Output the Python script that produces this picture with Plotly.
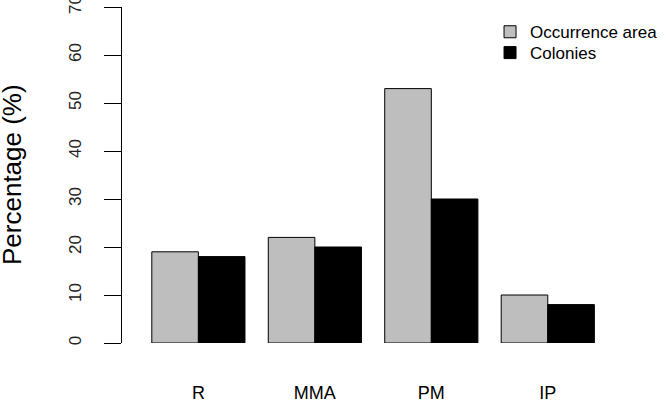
import plotly.graph_objects as go

categories = ["R", "MMA", "PM", "IP"]
occurrence_area = [19, 22, 53, 10]
colonies = [18, 20, 30, 8]
y_ticks = [0, 10, 20, 30, 40, 50, 60, 70]

FONT = "Liberation Sans, Arial, Helvetica, sans-serif"

fig = go.Figure()
fig.add_trace(go.Bar(
    x=categories, y=occurrence_area, name="Occurrence area", legend="legend",
    marker=dict(color="#BEBEBE", line=dict(color="#000000", width=1)),
))
fig.add_trace(go.Bar(
    x=categories, y=colonies, name="Colonies", legend="legend2",
    marker=dict(color="#000000", line=dict(color="#000000", width=1)),
))

legend_common = dict(
    xanchor="left", yanchor="middle", xref="paper", yref="paper",
    font=dict(size=17, color="#000000"),
    bgcolor="rgba(0,0,0,0)", itemclick=False, itemdoubleclick=False,
)

fig.update_layout(
    width=670, height=401,
    margin=dict(l=122, r=48, t=7, b=58),
    paper_bgcolor="white", plot_bgcolor="white",
    template="none",
    barmode="group", bargap=0.2, bargroupgap=0,
    font=dict(family=FONT, color="#000000"),
    showlegend=True,
    legend=dict(x=0.742, y=0.925, **legend_common),
    legend2=dict(x=0.742, y=0.863, **legend_common),
    xaxis=dict(
        type="category",
        range=[-0.656, 3.603],
        automargin=False,
        showline=False, showgrid=False, zeroline=False,
        ticks="", ticklabelstandoff=37,
        tickfont=dict(size=18, color="#000000"),
        fixedrange=True,
    ),
    yaxis=dict(
        range=[0, 70],
        automargin=False,
        tickvals=y_ticks,
        ticktext=[str(v) for v in y_ticks],
        showline=True, linecolor="#000000", linewidth=1,
        ticks="outside", ticklen=17, tickwidth=1, tickcolor="#000000",
        tickangle=-90,
        tickfont=dict(size=17, color="#222222"),
        ticklabelstandoff=16,
        ticklabeloverflow="allow",
        showgrid=False, zeroline=False,
        fixedrange=True,
    ),
)

fig.add_annotation(
    text="Percentage (%)", xref="paper", yref="paper",
    x=0, y=0.5, xanchor="center", yanchor="middle",
    xshift=-110, textangle=-90, showarrow=False,
    font=dict(size=26, color="#000000", family=FONT),
)

fig.write_html(
    "out.html",
    config={"displayModeBar": False, "staticPlot": False},
    post_script="document.body.style.margin='0px';document.body.style.overflow='hidden';",
)
